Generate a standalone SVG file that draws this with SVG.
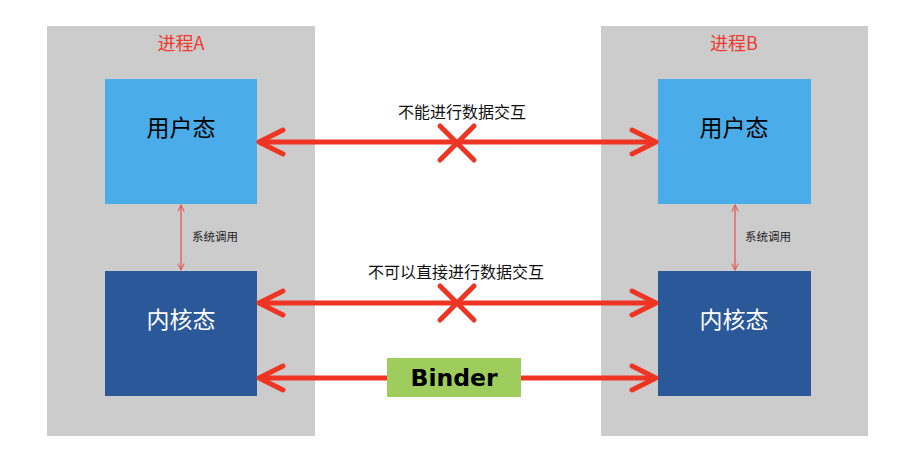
<svg xmlns="http://www.w3.org/2000/svg" width="912" height="467" viewBox="0 0 912 467">
  <style>
    .panel { fill: #cccccc; }
    .user { fill: #4aace8; }
    .kernel { fill: #2a5899; }
    .title { font-family: "Noto Sans CJK SC", "Liberation Sans", sans-serif; font-size: 18px; fill: #ee3a2c; text-anchor: middle; }
    .state { font-family: "Noto Sans CJK SC", sans-serif; font-size: 23px; text-anchor: middle; }
    .note { font-family: "Noto Sans CJK SC", sans-serif; font-size: 16px; fill: #111; text-anchor: middle; }
    .small { font-family: "Noto Sans CJK SC", sans-serif; font-size: 11.5px; fill: #222; }
    .big { stroke: #ee3524; stroke-width: 5; fill: none; stroke-linecap: round; stroke-linejoin: round; }
    .bar { stroke: #ee3524; stroke-width: 5; fill: none; }
    .thin { stroke: #e25a55; stroke-width: 1.3; fill: none; }
  </style>
  <defs>
    <marker id="tip" viewBox="0 0 10 10" refX="9" refY="5" markerWidth="8" markerHeight="8" orient="auto-start-reverse" markerUnits="userSpaceOnUse">
      <path d="M1,1 L9,5 L1,9" fill="none" stroke="#e25a55" stroke-width="1.3"/>
    </marker>
  </defs>

  <g id="processA">
    <rect class="panel" x="47" y="26" width="268" height="410"/>
    <text class="title" x="181" y="50">进程A</text>
  </g>
  <g id="processB">
    <rect class="panel" x="601" y="26" width="267" height="410"/>
    <text class="title" x="734" y="50">进程B</text>
  </g>

  <g id="userA">
    <rect class="user" x="105" y="79" width="152" height="125"/>
    <text class="state" x="181" y="136" fill="#000">用户态</text>
  </g>
  <g id="kernelA">
    <rect class="kernel" x="105" y="271" width="152" height="125"/>
    <text class="state" x="181" y="328" fill="#fff">内核态</text>
  </g>
  <g id="userB">
    <rect class="user" x="658" y="79" width="153" height="125"/>
    <text class="state" x="734" y="136" fill="#000">用户态</text>
  </g>
  <g id="kernelB">
    <rect class="kernel" x="658" y="271" width="153" height="125"/>
    <text class="state" x="734" y="328" fill="#fff">内核态</text>
  </g>

  <g id="binder">
    <rect x="387" y="358" width="134" height="39" fill="#9ecd5e"/>
    <text x="454" y="386" font-family="'DejaVu Sans', sans-serif" font-weight="bold" font-size="23.5" fill="#000" text-anchor="middle">Binder</text>
  </g>

  <g id="connectors">
    <!-- user space: blocked -->
    <line class="bar" x1="260" y1="142" x2="655" y2="142"/>
    <path class="big" d="M283,130 L259,142 L283,154 M632,130 L656,142 L632,154"/>
    <path class="big" d="M440,126 L474,160 M474,126 L440,160"/>
    <text class="note" x="462" y="118">不能进行数据交互</text>

    <!-- kernel space: blocked -->
    <line class="bar" x1="260" y1="303" x2="655" y2="303"/>
    <path class="big" d="M283,291 L259,303 L283,315 M632,291 L656,303 L632,315"/>
    <path class="big" d="M440,286 L474,320 M474,286 L440,320"/>
    <text class="note" x="456" y="278">不可以直接进行数据交互</text>

    <!-- kernel space: via Binder -->
    <line class="bar" x1="260" y1="378" x2="387" y2="378"/>
    <line class="bar" x1="521" y1="378" x2="655" y2="378"/>
    <path class="big" d="M283,366 L259,378 L283,390 M632,366 L656,378 L632,390"/>

    <!-- system calls -->
    <line class="thin" x1="181" y1="205" x2="181" y2="270" marker-start="url(#tip)" marker-end="url(#tip)"/>
    <text class="small" x="192" y="241">系统调用</text>
    <line class="thin" x1="735" y1="205" x2="735" y2="270" marker-start="url(#tip)" marker-end="url(#tip)"/>
    <text class="small" x="745" y="241">系统调用</text>
  </g>
</svg>
